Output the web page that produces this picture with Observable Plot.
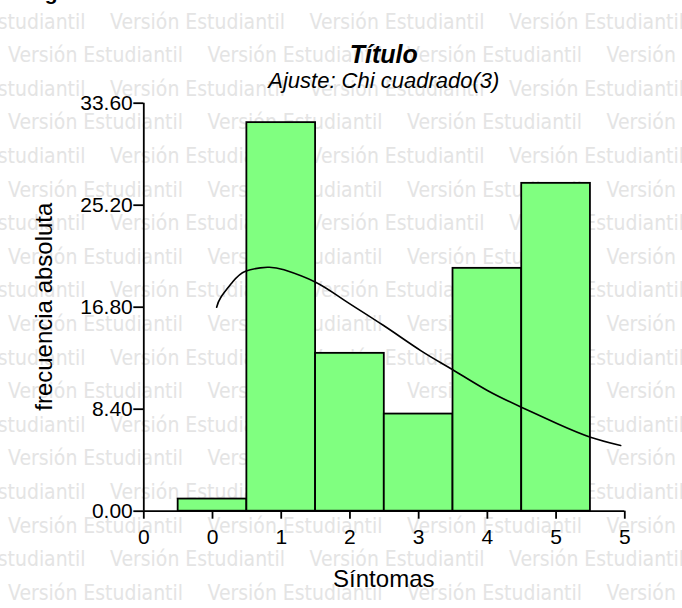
<!DOCTYPE html>
<html><head><meta charset="utf-8">
<script src="https://cdn.jsdelivr.net/npm/d3@7"></script>
<script src="https://cdn.jsdelivr.net/npm/@observablehq/plot@0.6"></script>
<style>
body{margin:0;background:#fff;}
#wrap{position:relative;width:682px;height:608px;overflow:hidden;font-family:"Liberation Sans",Arial,sans-serif;}
#wrap > svg{position:absolute;left:0;top:0;}
</style></head><body><div id="wrap"></div>
<script>
// ---- data ----
const categories = [0, 1, 2, 3, 4, 5];
const frequencies = [1, 32, 13, 8, 20, 27];
const curveX = [0.06, 0.12, 0.29, 0.48, 0.80, 1.04, 1.50, 1.91, 2.49, 3.03, 3.49, 4.00, 4.51, 5.02, 5.50, 5.94];
const curveY = [16.8, 17.6, 18.86, 19.77, 20.09, 19.88, 18.86, 17.41, 15.29, 13.23, 11.67, 9.94, 8.52, 7.20, 6.09, 5.41];
const xTickValues = [-1, 0, 1, 2, 3, 4, 5, 6];
const xTickLabels = ["0", "0", "1", "2", "3", "4", "5", "5"];
const yTickValues = [0, 8.4, 16.8, 25.2, 33.6];
const titleText = "Título";
const subtitleText = "Ajuste: Chi cuadrado(3)";
const headerText = "Figura 1. Gráfico de síntomas";
const xLabel = "Síntomas";
const yLabel = "frecuencia absoluta";
const watermarkText = "Versión Estudiantil";

const W = 682, H = 608;
const wrap = d3.select("#wrap");

// ---- watermark (background) ----
const wm = wrap.append("svg").attr("width", W).attr("height", H);
for (let k = 0; k < 19; k++) {
  const y = 28.5 + 33.6 * k;
  const start = (k % 2 === 1) ? 8 : -89.5;
  for (let i = -1; i < 5; i++) {
    wm.append("text")
      .attr("x", start + i * 199.5).attr("y", y)
      .attr("textLength", 175).attr("lengthAdjust", "spacingAndGlyphs")
      .attr("font-family", "DejaVu Sans, Verdana, sans-serif")
      .attr("font-size", 20.5).attr("fill", "#e4e4e4")
      .text(watermarkText);
  }
}

// ---- plot ----
const bars = categories.map((c, i) => ({x1: c - 0.5, x2: c + 0.5, y: frequencies[i]}));
const curve = curveX.map((x, i) => ({x, y: curveY[i]}));

const chart = Plot.plot({
  width: W, height: H,
  marginLeft: 143.3, marginRight: 57.7, marginTop: 102.7, marginBottom: 97.3,
  x: {type: "linear", domain: [-1, 6]},
  y: {type: "linear", domain: [0, 33.6]},
  style: {background: "transparent", fontFamily: "Liberation Sans, Arial, sans-serif", fontSize: "21px", color: "black", overflow: "visible"},
  marks: [
    Plot.rect(bars, {x1: "x1", x2: "x2", y1: () => 0, y2: "y", fill: "#80ff80", stroke: "black", strokeWidth: 1.8}),
    Plot.line(curve, {x: "x", y: "y", stroke: "black", strokeWidth: 1.6, curve: "natural"}),
    Plot.ruleX([-1], {y1: 0, y2: 33.6, stroke: "black", strokeWidth: 1.8}),
    Plot.ruleY([0], {x1: -1, x2: 6, stroke: "black", strokeWidth: 1.8}),
    Plot.axisX({ticks: xTickValues, tickFormat: d => xTickLabels[xTickValues.indexOf(d)], tickSize: 8, tickPadding: 10, label: null, fontSize: 21, strokeWidth: 1.8}),
    Plot.axisY({ticks: yTickValues, tickFormat: d => d.toFixed(2), tickSize: 10, tickPadding: 1, label: null, fontSize: 21, strokeWidth: 1.8})
  ]
});
wrap.node().appendChild(chart);

// ---- titles & axis labels (overlay) ----
const ov = wrap.append("svg").attr("width", W).attr("height", H).style("pointer-events", "none");
const ff = "Liberation Sans, Arial, sans-serif";
ov.append("text").attr("x", 26).attr("y", 0).attr("font-family", ff).attr("font-weight", "bold")
  .attr("font-size", 21).text(headerText);
ov.append("text").attr("x", 383.8).attr("y", 63).attr("text-anchor", "middle").attr("font-family", ff)
  .attr("font-weight", "bold").attr("font-style", "italic").attr("font-size", 25).text(titleText);
ov.append("text").attr("x", 383.8).attr("y", 88).attr("text-anchor", "middle").attr("font-family", ff)
  .attr("font-style", "italic").attr("font-size", 22).text(subtitleText);
ov.append("text").attr("x", 383.8).attr("y", 587).attr("text-anchor", "middle").attr("font-family", ff)
  .attr("font-size", 24).text(xLabel);
ov.append("text").attr("transform", "translate(52,306.7) rotate(-90)").attr("text-anchor", "middle").attr("font-family", ff)
  .attr("font-size", 24).text(yLabel);
</script></body></html>
